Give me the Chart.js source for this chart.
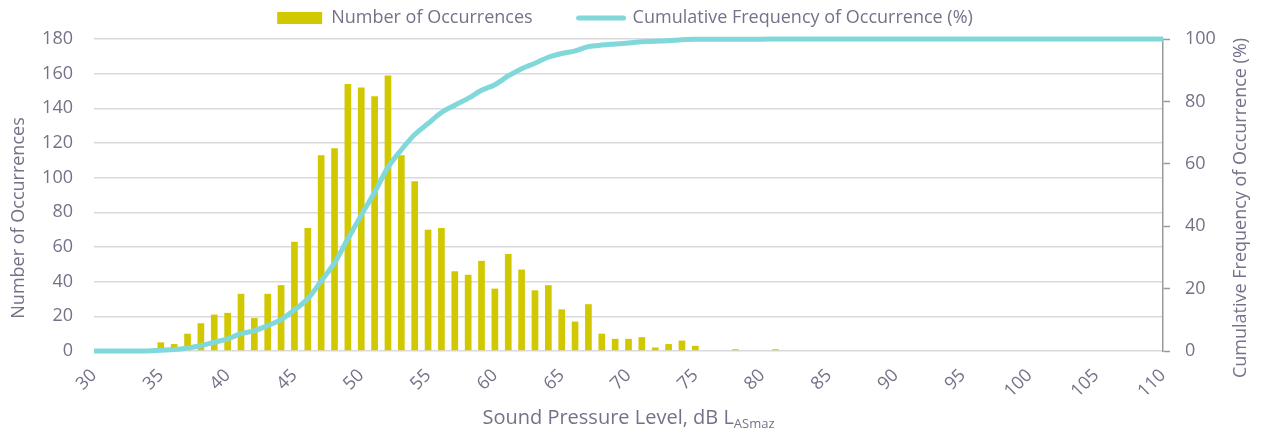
<!DOCTYPE html>
<html>
<head>
<meta charset="utf-8">
<title>Sound Pressure Level Distribution</title>
<script src="https://cdn.jsdelivr.net/npm/chart.js@4.4.1/dist/chart.umd.min.js"></script>
<style>
  html, body { margin: 0; padding: 0; background: #ffffff; }
  canvas { display: block; }
</style>
</head>
<body>
<canvas id="chart" width="1266" height="433"></canvas>
<script>
// Sound pressure level bins, dB
const levels = [
  30, 31, 32, 33, 34, 35, 36, 37, 38, 39,
  40, 41, 42, 43, 44, 45, 46, 47, 48, 49,
  50, 51, 52, 53, 54, 55, 56, 57, 58, 59,
  60, 61, 62, 63, 64, 65, 66, 67, 68, 69,
  70, 71, 72, 73, 74, 75, 76, 77, 78, 79,
  80, 81, 82, 83, 84, 85, 86, 87, 88, 89,
  90, 91, 92, 93, 94, 95, 96, 97, 98, 99,
  100, 101, 102, 103, 104, 105, 106, 107, 108, 109,
  110
];

// Number of occurrences in each bin
const occurrences = [
  0, 0, 0, 0, 0, 5, 4, 10, 16, 21,
  22, 33, 19, 33, 38, 63, 71, 113, 117, 154,
  152, 147, 159, 113, 98, 70, 71, 46, 44, 52,
  36, 56, 47, 35, 38, 24, 17, 27, 10, 7,
  7, 8, 2, 4, 6, 3, 0, 0, 1, 0,
  0, 1, 0, 0, 0, 0, 0, 0, 0, 0,
  0, 0, 0, 0, 0, 0, 0, 0, 0, 0,
  0, 0, 0, 0, 0, 0, 0, 0, 0, 0,
  0
];

// Cumulative frequency of occurrence, %
const cumulativePct = [
  0, 0, 0, 0, 0, 0.25, 0.45, 0.95, 1.75, 2.8,
  3.9, 5.55, 6.5, 8.15, 10.05, 13.2, 16.75, 22.4, 28.25, 35.95,
  43.55, 50.9, 58.85, 64.5, 69.4, 72.9, 76.45, 78.75, 80.95, 83.55,
  85.35, 88.15, 90.5, 92.25, 94.15, 95.35, 96.2, 97.55, 98.05, 98.4,
  98.75, 99.15, 99.25, 99.45, 99.75, 99.9, 99.9, 99.9, 99.95, 99.95,
  99.95, 100, 100, 100, 100, 100, 100, 100, 100, 100,
  100, 100, 100, 100, 100, 100, 100, 100, 100, 100,
  100, 100, 100, 100, 100, 100, 100, 100, 100, 100,
  100
];

// Labelled ticks along the level axis
const xTickLabels = ['30', '35', '40', '45', '50', '55', '60', '65', '70', '75', '80', '85', '90', '95', '100', '105', '110'];

const countSeriesName = 'Number of Occurrences';
const cumulativeSeriesName = 'Cumulative Frequency of Occurrence (%)';
const leftTitle = 'Number of Occurrences';
const rightTitle = 'Cumulative Frequency of Occurrence (%)';
const xTitleMain = 'Sound Pressure Level, dB L';
const xTitleSub = 'ASmaz';

const FONT = '"Open Sans", "Noto Sans", sans-serif';
const TEXT = '#767189';
const BAR = '#d1c800';
const LINE = '#80d8da';
const GRID = '#dadade';
const AXIS = '#9a9a9a';

// Axis titles: the level title carries a subscript, the right title reads upward
const axisTitles = {
  id: 'axisTitles',
  afterDraw(chart) {
    const { ctx, chartArea: a } = chart;
    ctx.save();
    ctx.fillStyle = TEXT;
    ctx.textAlign = 'center';
    ctx.textBaseline = 'middle';
    ctx.font = '18px ' + FONT;

    ctx.save();
    ctx.translate(19, 218);
    ctx.rotate(-Math.PI / 2);
    ctx.fillText(leftTitle, 0, 0);
    ctx.restore();

    ctx.save();
    ctx.translate(1241, 208);
    ctx.rotate(-Math.PI / 2);
    ctx.fillText(rightTitle, 0, 0);
    ctx.restore();

    ctx.textAlign = 'left';
    ctx.textBaseline = 'alphabetic';
    ctx.font = '20px ' + FONT;
    const w1 = ctx.measureText(xTitleMain).width;
    ctx.font = '13px ' + FONT;
    const w2 = ctx.measureText(xTitleSub).width;
    const x0 = (a.left + a.right) / 2 - (w1 + w2) / 2;
    ctx.font = '20px ' + FONT;
    ctx.fillText(xTitleMain, x0, 424);
    ctx.font = '13px ' + FONT;
    ctx.fillText(xTitleSub, x0 + w1, 428);
    ctx.restore();
  }
};

function draw() {
  const tickFont = { family: FONT, size: 18 };
  new Chart(document.getElementById('chart'), {
    type: 'bar',
    data: {
      labels: levels.map(String),
      datasets: [
        {
          type: 'bar',
          label: countSeriesName,
          data: occurrences,
          backgroundColor: BAR,
          borderWidth: 0,
          yAxisID: 'y',
          order: 1,
          barPercentage: 0.5,
          categoryPercentage: 1.0
        },
        {
          type: 'line',
          label: cumulativeSeriesName,
          data: cumulativePct,
          borderColor: LINE,
          backgroundColor: LINE,
          borderWidth: 5,
          pointRadius: 0,
          cubicInterpolationMode: 'monotone',
          fill: false,
          clip: false,
          yAxisID: 'y1',
          order: 0
        }
      ]
    },
    options: {
      responsive: false,
      animation: false,
      devicePixelRatio: 1,
      layout: { padding: { top: -37, right: 16, left: 0, bottom: 0 } },
      plugins: {
        tooltip: { enabled: false },
        // thin spacer band between the legend and the plot
        subtitle: {
          display: true,
          text: '',
          weight: 500,
          font: { size: 1, lineHeight: 1 },
          padding: { top: 0, bottom: 1 }
        },
        legend: {
          position: 'top',
          labels: {
            usePointStyle: true,
            pointStyleWidth: 45,
            boxHeight: 12,
            padding: 46,
            color: TEXT,
            font: { family: FONT, size: 18 },
            generateLabels: () => [
              {
                text: countSeriesName, fillStyle: BAR, strokeStyle: BAR,
                lineWidth: 0, pointStyle: 'rect', datasetIndex: 0, fontColor: TEXT
              },
              {
                text: cumulativeSeriesName, fillStyle: LINE, strokeStyle: LINE,
                lineWidth: 5, lineCap: 'round', pointStyle: 'line', datasetIndex: 1, fontColor: TEXT
              }
            ]
          }
        }
      },
      scales: {
        x: {
          type: 'category',
          offset: false,
          grid: { display: false },
          border: { display: false },
          ticks: {
            autoSkip: false,
            minRotation: 45,
            maxRotation: 45,
            padding: 6,
            color: TEXT,
            font: tickFont,
            callback: (v, i) => {
              const l = String(levels[i]);
              return xTickLabels.includes(l) ? l : null;
            }
          },
          afterFit: (s) => { s.height = 82; }
        },
        y: {
          position: 'left',
          min: 0,
          max: 180,
          ticks: { stepSize: 20, color: TEXT, font: tickFont, padding: 21 },
          grid: { color: GRID, lineWidth: 1.5, drawTicks: false },
          border: { display: false },
          afterFit: (s) => { s.width = 94; }
        },
        y1: {
          position: 'right',
          min: 0,
          max: 100,
          ticks: { stepSize: 20, color: TEXT, font: tickFont, padding: 15 },
          grid: { drawOnChartArea: false, drawTicks: true, tickLength: 7, tickColor: AXIS, tickWidth: 1.5 },
          border: { display: true, color: AXIS, width: 1.5 },
          afterFit: (s) => { s.width = 87; }
        }
      }
    },
    plugins: [axisTitles]
  });
}

if (document.fonts && document.fonts.load) {
  Promise.all([
    document.fonts.load('18px "Open Sans"'),
    document.fonts.load('20px "Open Sans"')
  ]).then(draw, draw);
} else {
  draw();
}
</script>
</body>
</html>
